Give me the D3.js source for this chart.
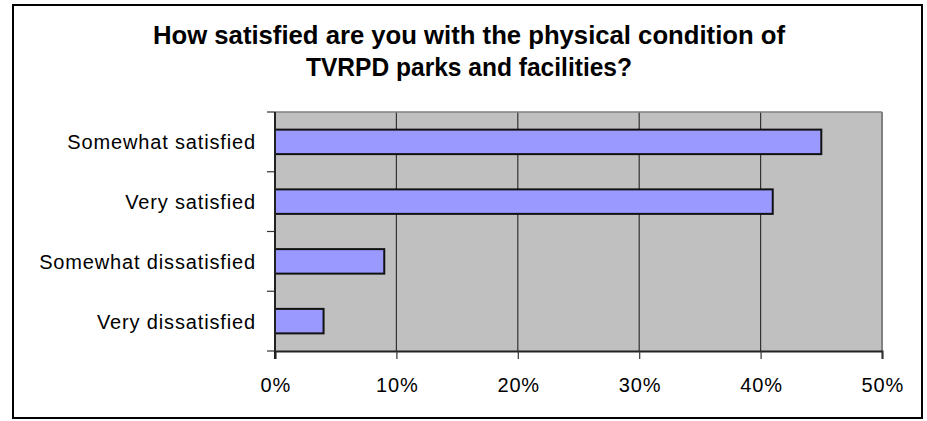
<!DOCTYPE html>
<html>
<head>
<meta charset="utf-8">
<script src="https://cdn.jsdelivr.net/npm/d3@7"></script>
<style>
  html, body { margin: 0; padding: 0; background: #fff; }
  svg { display: block; font-family: "Liberation Sans", Arial, sans-serif; }
</style>
</head>
<body>
<svg id="chart" width="927" height="421"></svg>
<script>
const titleLines = ["How satisfied are you with the physical condition of", "TVRPD parks and facilities?"];
const categories = ["Somewhat satisfied", "Very satisfied", "Somewhat dissatisfied", "Very dissatisfied"];
const values = [45, 41, 9, 4];
const xTicks = [0, 10, 20, 30, 40, 50];

const svg = d3.select("#chart");
const plot = { left: 275, right: 882, top: 112, bottom: 351 };

// outer frame
svg.append("rect")
  .attr("x", 13).attr("y", 5).attr("width", 909).attr("height", 413)
  .attr("fill", "#fff").attr("stroke", "#000").attr("stroke-width", 2);

// title
const titleW = [632, 326];
svg.append("g").selectAll("text").data(titleLines).join("text")
  .attr("x", 469)
  .attr("y", (d, i) => 44 + i * 31.7)
  .attr("text-anchor", "middle")
  .attr("font-size", 25)
  .attr("font-weight", "bold")
  .attr("fill", "#000")
  .attr("textLength", (d, i) => titleW[i])
  .attr("lengthAdjust", "spacingAndGlyphs")
  .text(d => d);

const x = d3.scaleLinear().domain([0, 50]).range([plot.left, plot.right]);
const yCat = d3.scaleBand().domain(categories).range([plot.top, plot.bottom]).padding(0);
const yBar = d3.scaleBand().domain(categories).range([plot.top, plot.bottom])
  .paddingInner(0.59).paddingOuter(0.295);

// plot background
svg.append("rect")
  .attr("x", plot.left).attr("y", plot.top)
  .attr("width", plot.right - plot.left).attr("height", plot.bottom - plot.top)
  .attr("fill", "#c0c0c0");

// gridlines
svg.append("g").selectAll("line").data(xTicks.filter(d => d > 0 && d < 50)).join("line")
  .attr("x1", d => x(d)).attr("x2", d => x(d))
  .attr("y1", plot.top).attr("y2", plot.bottom)
  .attr("stroke", "#333").attr("stroke-width", 1.2);

// top and right plot border
svg.append("line").attr("x1", plot.left).attr("x2", plot.right)
  .attr("y1", plot.top).attr("y2", plot.top)
  .attr("stroke", "#808080").attr("stroke-width", 1.5);
svg.append("line").attr("x1", plot.right).attr("x2", plot.right)
  .attr("y1", plot.top).attr("y2", plot.bottom)
  .attr("stroke", "#808080").attr("stroke-width", 2);

// bars
svg.append("g").selectAll("rect").data(categories).join("rect")
  .attr("x", x(0))
  .attr("y", d => yBar(d))
  .attr("width", (d, i) => x(values[i]) - x(0))
  .attr("height", yBar.bandwidth())
  .attr("fill", "#9999ff")
  .attr("stroke", "#111")
  .attr("stroke-width", 2);

// x axis
const xAxis = svg.append("g")
  .attr("transform", `translate(0,${plot.bottom})`)
  .call(d3.axisBottom(x).tickValues(xTicks).tickFormat(d => d + "%").tickSize(8).tickPadding(19));
xAxis.select(".domain").attr("stroke", "#222").attr("stroke-width", 2);
xAxis.selectAll(".tick line").attr("stroke", "#333").attr("stroke-width", 1.2);
xAxis.selectAll(".tick text")
  .attr("font-size", 20).attr("fill", "#000")
  .attr("font-family", "Liberation Sans, Arial, sans-serif")
  .style("letter-spacing", "0.85px").attr("dx", "0.4px");

// y axis labels
const yAxis = svg.append("g")
  .attr("transform", `translate(${plot.left},0)`)
  .call(d3.axisLeft(yCat).tickSize(0).tickPadding(19));
yAxis.select(".domain").remove();
yAxis.selectAll(".tick text")
  .attr("font-size", 20).attr("fill", "#000")
  .attr("font-family", "Liberation Sans, Arial, sans-serif")
  .style("letter-spacing", "0.85px").attr("dy", "0.37em");

// y axis line and boundary ticks
const bounds = categories.map(c => yCat(c)).concat([plot.bottom]);
svg.append("g").selectAll("line").data(bounds).join("line")
  .attr("x1", plot.left - 8).attr("x2", plot.left)
  .attr("y1", d => d).attr("y2", d => d)
  .attr("stroke", "#333").attr("stroke-width", 1.2);
svg.append("line").attr("x1", plot.left).attr("x2", plot.left)
  .attr("y1", plot.top).attr("y2", plot.bottom + 8)
  .attr("stroke", "#222").attr("stroke-width", 2);
</script>
</body>
</html>
